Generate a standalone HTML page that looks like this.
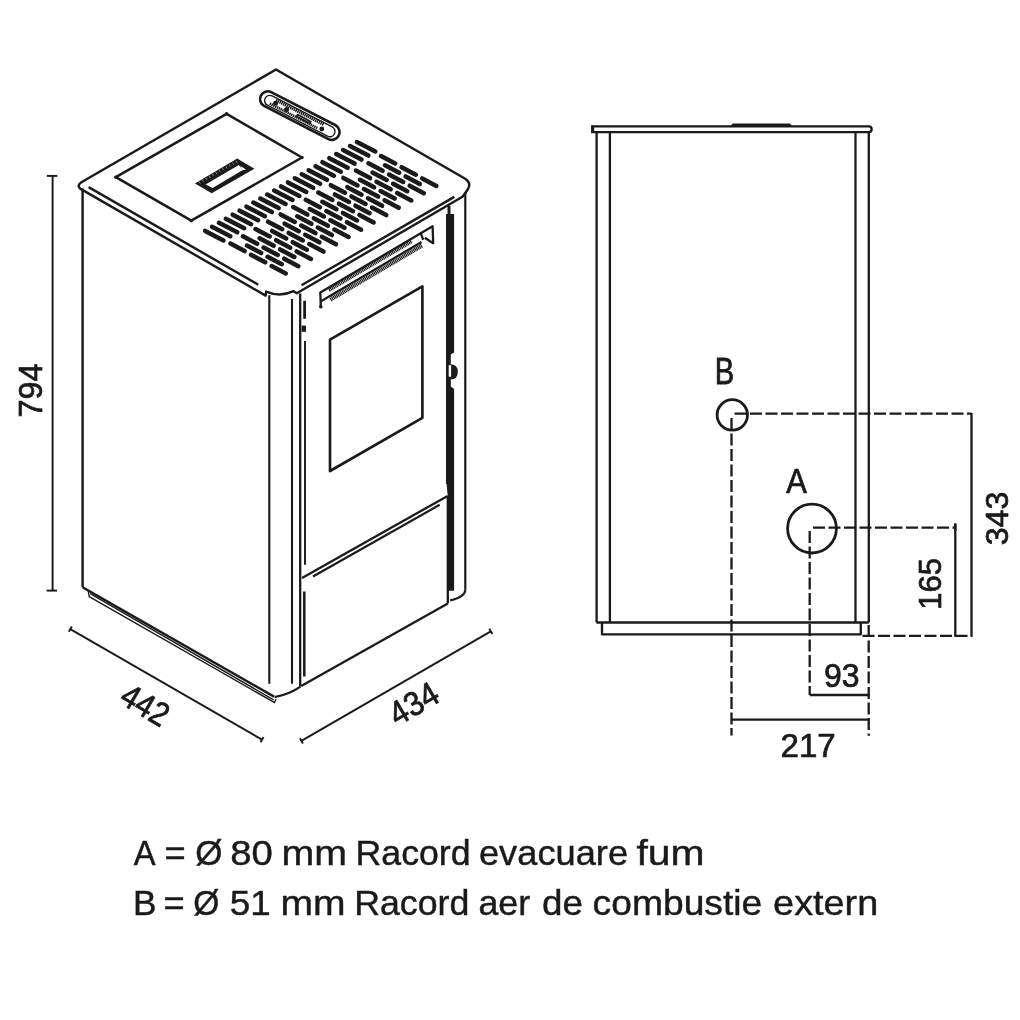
<!DOCTYPE html>
<html><head><meta charset="utf-8"><style>
html,body{margin:0;padding:0;background:#fff;}
body{width:1020px;height:1020px;overflow:hidden;position:relative;}
svg{position:absolute;left:0;top:0;}
.t text{font-family:"Liberation Sans",sans-serif;fill:#1a1a1a;stroke:#1a1a1a;stroke-width:0.7px;vector-effect:non-scaling-stroke;}
.t text.lg{stroke-width:0.45px;}
svg{will-change:transform;filter:blur(0.3px);}
</style></head><body>
<svg width="1020" height="1020" viewBox="0 0 1020 1020">
<rect x="0" y="0" width="1020" height="1020" fill="#fff"/>
<g fill="none" stroke="#1a1a1a" stroke-linecap="butt" stroke-linejoin="round">
<path d="M80.2,188.6 Q76.6,185.6 81.4,182.3 L276,69.5 L465.2,178.8 Q471.5,183 468,189 Q465.5,193 462.5,196.8 L296.8,293.3 L293.6,291.2 Q280,297.5 266.2,291.6 L265.6,295.6 Z" stroke-width="2.42" />
<line x1="88.60" y1="187.10" x2="258.30" y2="284.70" stroke-width="2.42" />
<line x1="301.50" y1="285.20" x2="454.30" y2="196.90" stroke-width="2.42" />
<path d="M115.80,177.20 L226.60,113.80 L302.00,157.50 L191.30,220.70 Z" stroke-width="2.53" />
<circle cx="115.80" cy="177.20" r="1.7" fill="#1a1a1a" stroke="none"/>
<circle cx="226.60" cy="113.80" r="1.7" fill="#1a1a1a" stroke="none"/>
<circle cx="302.00" cy="157.50" r="1.7" fill="#1a1a1a" stroke="none"/>
<circle cx="191.30" cy="220.70" r="1.7" fill="#1a1a1a" stroke="none"/>
<path d="M195.00,183.60 L237.20,158.40 L254.40,168.70 L211.70,193.20 Z" fill="#1a1a1a" stroke="none"/>
<path d="M205.60,184.40 L238.80,165.00 L242.80,170.00 L212.60,188.00 Z" fill="#fff" stroke="none"/>
<path d="M240.20,166.00 L246.00,169.40 L242.60,170.20 Z" fill="#fff" stroke="none"/>
<line x1="199.00" y1="181.60" x2="200.20" y2="183.60" stroke-width="0.5" stroke="#fff"/>
<line x1="202.36" y1="179.71" x2="203.56" y2="181.71" stroke-width="0.5" stroke="#fff"/>
<line x1="205.73" y1="177.82" x2="206.93" y2="179.82" stroke-width="0.5" stroke="#fff"/>
<line x1="209.09" y1="175.93" x2="210.29" y2="177.93" stroke-width="0.5" stroke="#fff"/>
<line x1="212.45" y1="174.04" x2="213.65" y2="176.04" stroke-width="0.5" stroke="#fff"/>
<line x1="215.82" y1="172.15" x2="217.02" y2="174.15" stroke-width="0.5" stroke="#fff"/>
<line x1="219.18" y1="170.25" x2="220.38" y2="172.25" stroke-width="0.5" stroke="#fff"/>
<line x1="222.55" y1="168.36" x2="223.75" y2="170.36" stroke-width="0.5" stroke="#fff"/>
<line x1="225.91" y1="166.47" x2="227.11" y2="168.47" stroke-width="0.5" stroke="#fff"/>
<line x1="229.27" y1="164.58" x2="230.47" y2="166.58" stroke-width="0.5" stroke="#fff"/>
<line x1="232.64" y1="162.69" x2="233.84" y2="164.69" stroke-width="0.5" stroke="#fff"/>
<line x1="236.00" y1="160.80" x2="237.20" y2="162.80" stroke-width="0.5" stroke="#fff"/>
<path d="M264.03,105.93 L328.43,139.13 A7.8,7.8 0 0 0 335.57,125.27 L271.17,92.07 A7.8,7.8 0 0 0 264.03,105.93 Z" stroke-width="2.64" />
<path d="M267.41,105.22 L327.41,136.22 A5.2,5.2 0 0 0 332.19,126.98 L272.19,95.98 A5.2,5.2 0 0 0 267.41,105.22 Z" stroke-width="1.4" />
<line x1="276.00" y1="100.10" x2="324.00" y2="124.80" stroke-width="3.0" stroke-dasharray="1.4 0.6"/>
<line x1="269.80" y1="103.50" x2="317.80" y2="128.30" stroke-width="2.6" stroke-dasharray="1.4 0.6"/>
<circle cx="275.60" cy="103.20" r="2.5" fill="#1a1a1a" stroke="none"/>
<circle cx="286.60" cy="109.60" r="2.5" fill="#1a1a1a" stroke="none"/>
<circle cx="321.80" cy="129.00" r="2.4" fill="#1a1a1a" stroke="none"/>
<path d="M297.50,114.60 L310.80,121.70 L310.00,123.50 L296.70,116.40 Z" stroke-width="1.72" />
<line x1="82.60" y1="188.60" x2="82.60" y2="587.20" stroke-width="2.42" />
<line x1="82.60" y1="587.20" x2="274.00" y2="696.60" stroke-width="2.42" />
<path d="M88.2,590.6 L89.2,596.6 L274.6,702.6 L276,699" stroke-width="1.4" />
<line x1="90.20" y1="593.60" x2="273.60" y2="699.80" stroke-width="1.4" />
<line x1="269.30" y1="295.30" x2="269.30" y2="683.80" stroke-width="2.07" />
<line x1="292.00" y1="299.00" x2="292.00" y2="683.80" stroke-width="2.07" />
<line x1="300.20" y1="293.60" x2="300.20" y2="686.60" stroke-width="2.3" />
<path d="M274.6,697.2 Q290,694 300.4,686.6" stroke-width="2.3" />
<line x1="304.60" y1="300.80" x2="304.60" y2="318.80" stroke-width="2.76" />
<path d="M301.60,325.60 L306.00,325.60 L306.00,331.80 L301.60,331.80 Z" fill="#1a1a1a" stroke="none"/>
<line x1="305.00" y1="341.00" x2="305.00" y2="564.70" stroke-width="1.95" />
<line x1="304.30" y1="591.50" x2="304.30" y2="676.50" stroke-width="2.53" />
<line x1="465.30" y1="192.80" x2="465.30" y2="589.20" stroke-width="2.18" />
<path d="M465.3,589.2 Q465.6,596.8 450.2,600.4" stroke-width="2.18" />
<path d="M446.0,214.0 L454.1,214.0 L454.1,352.6 L450.8,354.5 L450.8,386.5 L454.1,389.0 L454.1,590.8 L447.8,590.8 L447.8,496.7 L446.6,484 L446.0,484 Z" fill="#1a1a1a" stroke="none"/>
<line x1="449.00" y1="205.80" x2="449.00" y2="214.50" stroke-width="2.99" />
<path d="M450.5,364.3 Q457.8,364.6 457.8,371.8 Q457.8,379.6 450.5,379.6 Z" fill="#1a1a1a" stroke="none"/>
<path d="M448.7,365.2 L451.1,365.2 L451.1,376.7 L448.7,376.7 Z" fill="#fff" stroke="none"/>
<path d="M330.00,339.60 L422.40,286.40 L422.40,417.80 L330.00,471.00 Z" stroke-width="2.64" />
<path d="M320.8,306.6 L320.3,292.53 L432.6,226.27 L433.2,243.2 L424.8,237.8" stroke-width="2.3" />
<line x1="321.00" y1="301.31" x2="421.60" y2="241.96" stroke-width="2.18" />
<path d="M420.6,232.6 L423.2,239.8" stroke-width="2.3" />
<circle cx="320.80" cy="306.80" r="1.8" fill="#1a1a1a" stroke="none"/>
<line x1="329.00" y1="290.19" x2="412.00" y2="241.22" stroke-width="3.4" stroke-dasharray="1.2 0.55"/>
<line x1="330.40" y1="299.57" x2="422.20" y2="245.41" stroke-width="4.2" stroke-dasharray="1.2 0.55"/>
<line x1="302.00" y1="577.90" x2="447.70" y2="495.90" stroke-width="2.3" />
<line x1="313.00" y1="576.50" x2="439.70" y2="504.80" stroke-width="2.18" />
<line x1="447.80" y1="496.70" x2="447.80" y2="603.40" stroke-width="2.3" />
<line x1="301.20" y1="686.00" x2="447.80" y2="603.40" stroke-width="2.3" />
<line x1="52.60" y1="175.90" x2="52.60" y2="590.60" stroke-width="1.95" />
<line x1="46.80" y1="175.90" x2="57.40" y2="175.90" stroke-width="1.95" />
<line x1="46.60" y1="590.60" x2="57.00" y2="590.60" stroke-width="1.95" />
<line x1="70.30" y1="629.20" x2="262.00" y2="739.70" stroke-width="1.95" />
<line x1="71.80" y1="626.60" x2="68.80" y2="631.80" stroke-width="1.95" />
<line x1="263.50" y1="737.10" x2="260.50" y2="742.30" stroke-width="1.95" />
<line x1="301.40" y1="740.80" x2="490.80" y2="631.40" stroke-width="1.95" />
<line x1="299.90" y1="738.20" x2="302.90" y2="743.40" stroke-width="1.95" />
<line x1="489.30" y1="628.80" x2="492.30" y2="634.00" stroke-width="1.95" />
<line x1="356.90" y1="142.00" x2="375.30" y2="151.50" stroke-width="4.5" stroke-linecap="round"/>
<line x1="350.00" y1="146.04" x2="368.40" y2="155.54" stroke-width="4.5" stroke-linecap="round"/>
<line x1="343.10" y1="150.08" x2="361.50" y2="159.58" stroke-width="4.5" stroke-linecap="round"/>
<line x1="336.20" y1="154.12" x2="354.60" y2="163.62" stroke-width="4.5" stroke-linecap="round"/>
<line x1="329.30" y1="158.16" x2="347.70" y2="167.66" stroke-width="4.5" stroke-linecap="round"/>
<line x1="322.40" y1="162.20" x2="340.80" y2="171.70" stroke-width="4.5" stroke-linecap="round"/>
<line x1="315.50" y1="166.24" x2="333.90" y2="175.74" stroke-width="4.5" stroke-linecap="round"/>
<line x1="308.60" y1="170.28" x2="327.00" y2="179.78" stroke-width="4.5" stroke-linecap="round"/>
<line x1="301.70" y1="174.32" x2="320.10" y2="183.82" stroke-width="4.5" stroke-linecap="round"/>
<line x1="294.80" y1="178.36" x2="313.20" y2="187.86" stroke-width="4.5" stroke-linecap="round"/>
<line x1="287.90" y1="182.40" x2="306.30" y2="191.90" stroke-width="4.5" stroke-linecap="round"/>
<line x1="281.00" y1="186.44" x2="299.40" y2="195.94" stroke-width="4.5" stroke-linecap="round"/>
<line x1="274.10" y1="190.48" x2="292.50" y2="199.98" stroke-width="4.5" stroke-linecap="round"/>
<line x1="267.20" y1="194.52" x2="285.60" y2="204.02" stroke-width="4.5" stroke-linecap="round"/>
<line x1="260.30" y1="198.56" x2="278.70" y2="208.06" stroke-width="4.5" stroke-linecap="round"/>
<line x1="253.40" y1="202.60" x2="271.80" y2="212.10" stroke-width="4.5" stroke-linecap="round"/>
<line x1="246.50" y1="206.64" x2="264.90" y2="216.14" stroke-width="4.5" stroke-linecap="round"/>
<line x1="239.60" y1="210.68" x2="258.00" y2="220.18" stroke-width="4.5" stroke-linecap="round"/>
<line x1="232.70" y1="214.72" x2="251.10" y2="224.22" stroke-width="4.5" stroke-linecap="round"/>
<line x1="225.80" y1="218.76" x2="244.20" y2="228.26" stroke-width="4.5" stroke-linecap="round"/>
<line x1="218.90" y1="222.80" x2="237.30" y2="232.30" stroke-width="4.5" stroke-linecap="round"/>
<line x1="212.00" y1="226.84" x2="230.40" y2="236.34" stroke-width="4.5" stroke-linecap="round"/>
<line x1="205.10" y1="230.88" x2="223.50" y2="240.38" stroke-width="4.5" stroke-linecap="round"/>
<line x1="381.00" y1="156.00" x2="395.20" y2="163.50" stroke-width="4.5" stroke-linecap="round"/>
<line x1="368.45" y1="163.30" x2="382.65" y2="170.80" stroke-width="4.5" stroke-linecap="round"/>
<line x1="355.90" y1="170.60" x2="370.10" y2="178.10" stroke-width="4.5" stroke-linecap="round"/>
<line x1="343.35" y1="177.90" x2="357.55" y2="185.40" stroke-width="4.5" stroke-linecap="round"/>
<line x1="330.80" y1="185.20" x2="345.00" y2="192.70" stroke-width="4.5" stroke-linecap="round"/>
<line x1="318.25" y1="192.50" x2="332.45" y2="200.00" stroke-width="4.5" stroke-linecap="round"/>
<line x1="305.70" y1="199.80" x2="319.90" y2="207.30" stroke-width="4.5" stroke-linecap="round"/>
<line x1="293.15" y1="207.10" x2="307.35" y2="214.60" stroke-width="4.5" stroke-linecap="round"/>
<line x1="280.60" y1="214.40" x2="294.80" y2="221.90" stroke-width="4.5" stroke-linecap="round"/>
<line x1="268.05" y1="221.70" x2="282.25" y2="229.20" stroke-width="4.5" stroke-linecap="round"/>
<line x1="255.50" y1="229.00" x2="269.70" y2="236.50" stroke-width="4.5" stroke-linecap="round"/>
<line x1="242.95" y1="236.30" x2="257.15" y2="243.80" stroke-width="4.5" stroke-linecap="round"/>
<line x1="230.40" y1="243.60" x2="244.60" y2="251.10" stroke-width="4.5" stroke-linecap="round"/>
<line x1="385.03" y1="165.25" x2="399.23" y2="172.75" stroke-width="4.5" stroke-linecap="round"/>
<line x1="372.48" y1="172.55" x2="386.68" y2="180.05" stroke-width="4.5" stroke-linecap="round"/>
<line x1="359.93" y1="179.85" x2="374.12" y2="187.35" stroke-width="4.5" stroke-linecap="round"/>
<line x1="347.38" y1="187.15" x2="361.57" y2="194.65" stroke-width="4.5" stroke-linecap="round"/>
<line x1="334.82" y1="194.45" x2="349.02" y2="201.95" stroke-width="4.5" stroke-linecap="round"/>
<line x1="322.27" y1="201.75" x2="336.47" y2="209.25" stroke-width="4.5" stroke-linecap="round"/>
<line x1="309.73" y1="209.05" x2="323.93" y2="216.55" stroke-width="4.5" stroke-linecap="round"/>
<line x1="297.18" y1="216.35" x2="311.38" y2="223.85" stroke-width="4.5" stroke-linecap="round"/>
<line x1="284.62" y1="223.65" x2="298.82" y2="231.15" stroke-width="4.5" stroke-linecap="round"/>
<line x1="272.07" y1="230.95" x2="286.27" y2="238.45" stroke-width="4.5" stroke-linecap="round"/>
<line x1="259.52" y1="238.25" x2="273.72" y2="245.75" stroke-width="4.5" stroke-linecap="round"/>
<line x1="246.97" y1="245.55" x2="261.18" y2="253.05" stroke-width="4.5" stroke-linecap="round"/>
<line x1="401.60" y1="167.20" x2="415.80" y2="174.70" stroke-width="4.5" stroke-linecap="round"/>
<line x1="389.05" y1="174.50" x2="403.25" y2="182.00" stroke-width="4.5" stroke-linecap="round"/>
<line x1="376.50" y1="181.80" x2="390.70" y2="189.30" stroke-width="4.5" stroke-linecap="round"/>
<line x1="363.95" y1="189.10" x2="378.15" y2="196.60" stroke-width="4.5" stroke-linecap="round"/>
<line x1="351.40" y1="196.40" x2="365.60" y2="203.90" stroke-width="4.5" stroke-linecap="round"/>
<line x1="338.85" y1="203.70" x2="353.05" y2="211.20" stroke-width="4.5" stroke-linecap="round"/>
<line x1="326.30" y1="211.00" x2="340.50" y2="218.50" stroke-width="4.5" stroke-linecap="round"/>
<line x1="313.75" y1="218.30" x2="327.95" y2="225.80" stroke-width="4.5" stroke-linecap="round"/>
<line x1="301.20" y1="225.60" x2="315.40" y2="233.10" stroke-width="4.5" stroke-linecap="round"/>
<line x1="288.65" y1="232.90" x2="302.85" y2="240.40" stroke-width="4.5" stroke-linecap="round"/>
<line x1="276.10" y1="240.20" x2="290.30" y2="247.70" stroke-width="4.5" stroke-linecap="round"/>
<line x1="263.55" y1="247.50" x2="277.75" y2="255.00" stroke-width="4.5" stroke-linecap="round"/>
<line x1="251.00" y1="254.80" x2="265.20" y2="262.30" stroke-width="4.5" stroke-linecap="round"/>
<line x1="405.62" y1="176.45" x2="419.82" y2="183.95" stroke-width="4.5" stroke-linecap="round"/>
<line x1="393.07" y1="183.75" x2="407.27" y2="191.25" stroke-width="4.5" stroke-linecap="round"/>
<line x1="380.52" y1="191.05" x2="394.72" y2="198.55" stroke-width="4.5" stroke-linecap="round"/>
<line x1="367.97" y1="198.35" x2="382.17" y2="205.85" stroke-width="4.5" stroke-linecap="round"/>
<line x1="355.42" y1="205.65" x2="369.62" y2="213.15" stroke-width="4.5" stroke-linecap="round"/>
<line x1="342.88" y1="212.95" x2="357.07" y2="220.45" stroke-width="4.5" stroke-linecap="round"/>
<line x1="330.32" y1="220.25" x2="344.52" y2="227.75" stroke-width="4.5" stroke-linecap="round"/>
<line x1="317.77" y1="227.55" x2="331.97" y2="235.05" stroke-width="4.5" stroke-linecap="round"/>
<line x1="305.22" y1="234.85" x2="319.42" y2="242.35" stroke-width="4.5" stroke-linecap="round"/>
<line x1="292.67" y1="242.15" x2="306.87" y2="249.65" stroke-width="4.5" stroke-linecap="round"/>
<line x1="280.12" y1="249.45" x2="294.32" y2="256.95" stroke-width="4.5" stroke-linecap="round"/>
<line x1="267.57" y1="256.75" x2="281.77" y2="264.25" stroke-width="4.5" stroke-linecap="round"/>
<line x1="422.20" y1="178.40" x2="436.40" y2="185.90" stroke-width="4.5" stroke-linecap="round"/>
<line x1="409.65" y1="185.70" x2="423.85" y2="193.20" stroke-width="4.5" stroke-linecap="round"/>
<line x1="397.10" y1="193.00" x2="411.30" y2="200.50" stroke-width="4.5" stroke-linecap="round"/>
<line x1="384.55" y1="200.30" x2="398.75" y2="207.80" stroke-width="4.5" stroke-linecap="round"/>
<line x1="372.00" y1="207.60" x2="386.20" y2="215.10" stroke-width="4.5" stroke-linecap="round"/>
<line x1="359.45" y1="214.90" x2="373.65" y2="222.40" stroke-width="4.5" stroke-linecap="round"/>
<line x1="346.90" y1="222.20" x2="361.10" y2="229.70" stroke-width="4.5" stroke-linecap="round"/>
<line x1="334.35" y1="229.50" x2="348.55" y2="237.00" stroke-width="4.5" stroke-linecap="round"/>
<line x1="321.80" y1="236.80" x2="336.00" y2="244.30" stroke-width="4.5" stroke-linecap="round"/>
<line x1="309.25" y1="244.10" x2="323.45" y2="251.60" stroke-width="4.5" stroke-linecap="round"/>
<line x1="296.70" y1="251.40" x2="310.90" y2="258.90" stroke-width="4.5" stroke-linecap="round"/>
<line x1="284.15" y1="258.70" x2="298.35" y2="266.20" stroke-width="4.5" stroke-linecap="round"/>
<line x1="271.60" y1="266.00" x2="285.80" y2="273.50" stroke-width="4.5" stroke-linecap="round"/>
<path d="M592.4,126.4 L869.0,126.4 Q871.6,126.4 871.6,129.25 Q871.6,132.1 869.0,132.1 L592.4,132.1 Z" stroke-width="2.42" stroke-linejoin="miter"/>
<path d="M591.4,125.5 L594.2,125.5 L594.2,133.0 L591.4,133.0 Z" fill="#1a1a1a" stroke="none"/>
<path d="M731,126.2 L733.2,124.0 L789.4,124.0 L791.6,126.2 Z" fill="#1a1a1a" stroke-width="1.2"/>
<line x1="596.60" y1="132.10" x2="596.60" y2="622.50" stroke-width="2.3" />
<line x1="609.90" y1="132.10" x2="609.90" y2="622.50" stroke-width="2.3" />
<line x1="855.50" y1="132.10" x2="855.50" y2="622.50" stroke-width="2.3" />
<line x1="868.80" y1="132.10" x2="868.80" y2="622.50" stroke-width="2.3" />
<line x1="596.40" y1="622.50" x2="868.80" y2="622.50" stroke-width="2.3" />
<path d="M602,622.5 L602,634.4 L860.8,634.4 L860.8,622.5" stroke-width="2.3" />
<circle cx="732.3" cy="414.9" r="15.2" stroke-width="2.8"/>
<circle cx="812.0" cy="528.6" r="24.4" stroke-width="2.8"/>
<line x1="734.50" y1="413.70" x2="971.50" y2="413.70" stroke-width="2.3" stroke-dasharray="12 3.5"/>
<line x1="731.50" y1="418.00" x2="731.50" y2="735.50" stroke-width="2.3" stroke-dasharray="12 3.5"/>
<line x1="813.00" y1="527.60" x2="955.30" y2="527.60" stroke-width="2.3" stroke-dasharray="12 3.5"/>
<line x1="809.70" y1="531.00" x2="809.70" y2="695.00" stroke-width="2.3" stroke-dasharray="12 3.5"/>
<line x1="868.70" y1="625.00" x2="868.70" y2="735.80" stroke-width="2.3" stroke-dasharray="12 3.5"/>
<line x1="862.50" y1="635.80" x2="971.50" y2="635.80" stroke-width="2.3" stroke-dasharray="12 3.5"/>
<line x1="971.50" y1="413.00" x2="971.50" y2="636.80" stroke-width="2.3" />
<line x1="955.30" y1="523.50" x2="955.30" y2="636.80" stroke-width="2.3" />
<line x1="809.70" y1="695.00" x2="869.70" y2="695.00" stroke-width="2.3" />
<line x1="731.50" y1="719.70" x2="869.70" y2="719.70" stroke-width="2.3" />
<line x1="955.30" y1="523.50" x2="955.30" y2="531.00" stroke-width="2.3" />
</g>
<g class="t">
<text transform="translate(41.87,417.62) rotate(-90) scale(32.492,33.239)" font-size="1">794</text>
<text transform="translate(145.00,704.60) rotate(30.5) scale(29.874,33.571) translate(-0.8200,0.3500)" font-size="1">442</text>
<text transform="translate(413.60,703.60) rotate(-30.5) scale(31.056,33.803) translate(-0.8300,0.3450)" font-size="1">434</text>
<text transform="translate(714.87,384.10) scale(29.159,36.087)" font-size="1">B</text>
<text transform="translate(786.25,492.50) scale(30.909,35.797)" font-size="1">A</text>
<text transform="translate(1008.38,545.18) rotate(-90) scale(32.025,31.972)" font-size="1">343</text>
<text transform="translate(941.48,609.83) rotate(-90) scale(31.097,31.690)" font-size="1">165</text>
<text transform="translate(824.06,686.57) scale(31.961,32.535)" font-size="1">93</text>
<text transform="translate(780.55,757.30) scale(33.099,33.429)" font-size="1">217</text>
<text class="lg" transform="translate(133.74,864.80) scale(32.727,35.200)" font-size="1">A</text>
<text class="lg" transform="translate(164.49,864.80) scale(36.289,35.200)" font-size="1">=</text>
<text class="lg" transform="translate(195.30,864.80) scale(35.000,35.200)" font-size="1">Ø</text>
<text class="lg" transform="translate(230.28,864.80) scale(38.244,35.200)" font-size="1">80</text>
<text class="lg" transform="translate(281.44,864.80) scale(39.349,35.200)" font-size="1">mm</text>
<text class="lg" transform="translate(355.54,864.80) scale(35.714,35.200)" font-size="1">Racord</text>
<text class="lg" transform="translate(478.97,864.80) scale(36.248,35.200)" font-size="1">evacuare</text>
<text class="lg" transform="translate(636.39,864.80) scale(40.883,35.200)" font-size="1">fum</text>
<text class="lg" transform="translate(133.09,914.80) scale(35.140,35.200)" font-size="1">B</text>
<text class="lg" transform="translate(163.49,914.80) scale(36.289,35.200)" font-size="1">=</text>
<text class="lg" transform="translate(193.36,914.80) scale(33.571,35.200)" font-size="1">Ø</text>
<text class="lg" transform="translate(229.73,914.80) scale(36.863,35.200)" font-size="1">51</text>
<text class="lg" transform="translate(280.46,914.80) scale(39.088,35.200)" font-size="1">mm</text>
<text class="lg" transform="translate(354.14,914.80) scale(35.747,35.200)" font-size="1">Racord</text>
<text class="lg" transform="translate(478.39,914.80) scale(35.797,35.200)" font-size="1">aer</text>
<text class="lg" transform="translate(542.03,914.80) scale(36.780,35.200)" font-size="1">de</text>
<text class="lg" transform="translate(592.62,914.80) scale(37.245,35.200)" font-size="1">combustie</text>
<text class="lg" transform="translate(773.10,914.80) scale(37.828,35.200)" font-size="1">extern</text>
</g>
</svg>
</body></html>
